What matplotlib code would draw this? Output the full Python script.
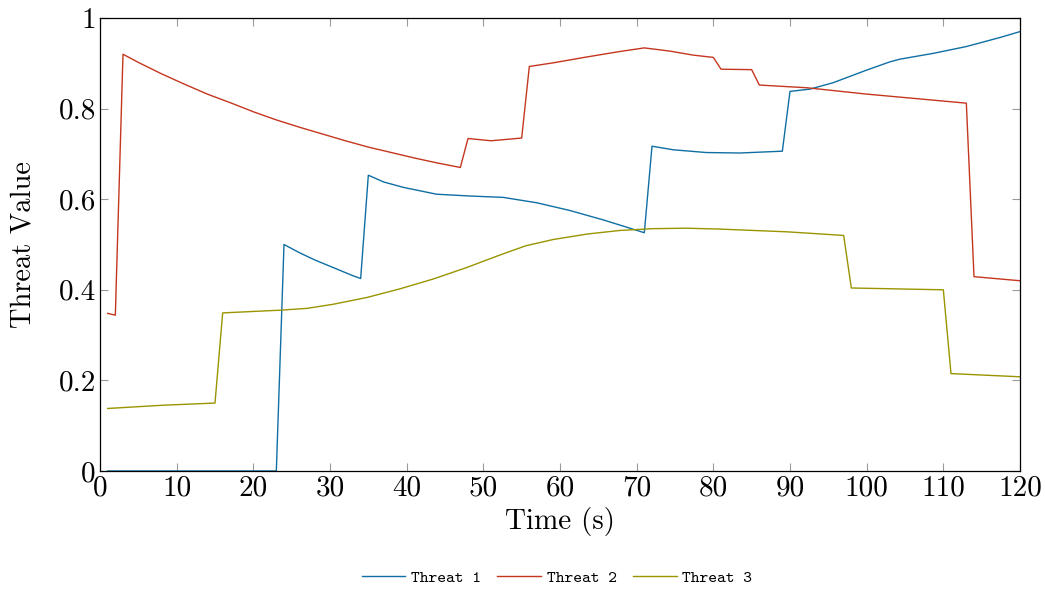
import matplotlib
matplotlib.use("Agg")
import matplotlib.pyplot as plt

plt.rcParams['font.family'] = ['cmr10', 'DejaVu Serif']
plt.rcParams['axes.formatter.use_mathtext'] = True
plt.rcParams['mathtext.fontset'] = 'cm'

# Threat 1 (blue)
t1_time = [1, 23, 24, 25, 26, 27, 28, 29, 30, 31, 32, 33, 34, 35, 37, 39.6, 43.9, 48.3, 52.6, 57, 61.3, 65.7, 71,
           72, 74.8, 79.1, 83.5, 89, 90, 92.6, 95.6, 100, 103, 104.3, 108.7, 113, 117.4, 120]
t1_value = [0.0, 0.0, 0.500, 0.491, 0.482, 0.474, 0.466, 0.459, 0.452, 0.445, 0.438, 0.431, 0.425,
            0.653, 0.638, 0.626, 0.611, 0.607, 0.604,
            0.592, 0.575, 0.554, 0.526, 0.717, 0.709, 0.703, 0.702, 0.706, 0.838, 0.843, 0.857,
            0.885, 0.903, 0.909, 0.922, 0.937, 0.957, 0.970]

# Threat 2 (red)
t2_time = [1, 2, 3, 5, 8, 11, 14, 17, 20, 23, 26, 29, 32, 35, 38, 41, 44, 47,
           48, 51, 55, 56, 59.1, 63.5, 67.8, 71, 74.3, 77.4, 80, 81, 85, 86, 92.2, 100, 113, 114, 120]
t2_value = [0.348, 0.344, 0.920, 0.902, 0.877, 0.854, 0.832, 0.813, 0.793, 0.775, 0.759, 0.744,
            0.729, 0.715, 0.703, 0.691, 0.680, 0.670, 0.734, 0.729, 0.735, 0.893, 0.901, 0.914,
            0.926, 0.934, 0.927, 0.918, 0.913, 0.887, 0.886, 0.852, 0.846, 0.832, 0.812, 0.429, 0.420]

# Threat 3 (olive)
t3_time = [1, 8, 15, 16, 23.5, 27, 30.4, 34.8, 39.1, 43.5, 47.8, 52.2, 55.5, 59.1, 63.5, 67.8,
           72.2, 76.5, 80.9, 85.2, 89.6, 97, 98, 110, 111, 120]
t3_value = [0.138, 0.145, 0.150, 0.349, 0.355, 0.359, 0.368, 0.383, 0.402, 0.424, 0.449, 0.477,
            0.497, 0.511, 0.523, 0.531, 0.535, 0.536, 0.534, 0.531, 0.528, 0.520, 0.404, 0.400,
            0.215, 0.208]

series_names = ['Threat 1', 'Threat 2', 'Threat 3']
series_colors = ['#0f6fa3', '#c5361f', '#999400']

xticks = [0, 10, 20, 30, 40, 50, 60, 70, 80, 90, 100, 110, 120]
yticks = [0, 0.2, 0.4, 0.6, 0.8, 1]
ytick_labels = ['0', '0.2', '0.4', '0.6', '0.8', '1']

fig = plt.figure(figsize=(10.45, 5.9), dpi=100)
ax = fig.add_axes([100 / 1045, 1 - 471 / 590, 920 / 1045, 453 / 590])

for (tt, vv), name, col in zip([(t1_time, t1_value), (t2_time, t2_value), (t3_time, t3_value)],
                               series_names, series_colors):
    ax.plot(tt, vv, color=col, lw=1.0, label=name)

ax.set_xlim(0, 120)
ax.set_ylim(0, 1)
ax.set_xticks(xticks)
ax.set_xticklabels([str(x) for x in xticks])
ax.set_yticks(yticks)
ax.set_yticklabels(ytick_labels)
ax.tick_params(direction='in', length=6, width=0.8, color='#9a9a9a',
               top=True, right=True, labelsize=21, pad=3)
for s in ax.spines.values():
    s.set_linewidth(0.9)
    s.set_color('black')

ax.set_xlabel('Time (s)', fontsize=21, labelpad=4)
ax.set_ylabel('Threat Value', fontsize=20.5, labelpad=16)

fig.legend(loc='center', bbox_to_anchor=(557 / 1045, 1 - 578 / 590), ncol=3, frameon=False,
           prop={'family': ['cmtt10', 'DejaVu Sans Mono'], 'size': 12},
           handlelength=2.6, columnspacing=1.0, handletextpad=0.35)

fig.savefig('out.png', dpi=100)
